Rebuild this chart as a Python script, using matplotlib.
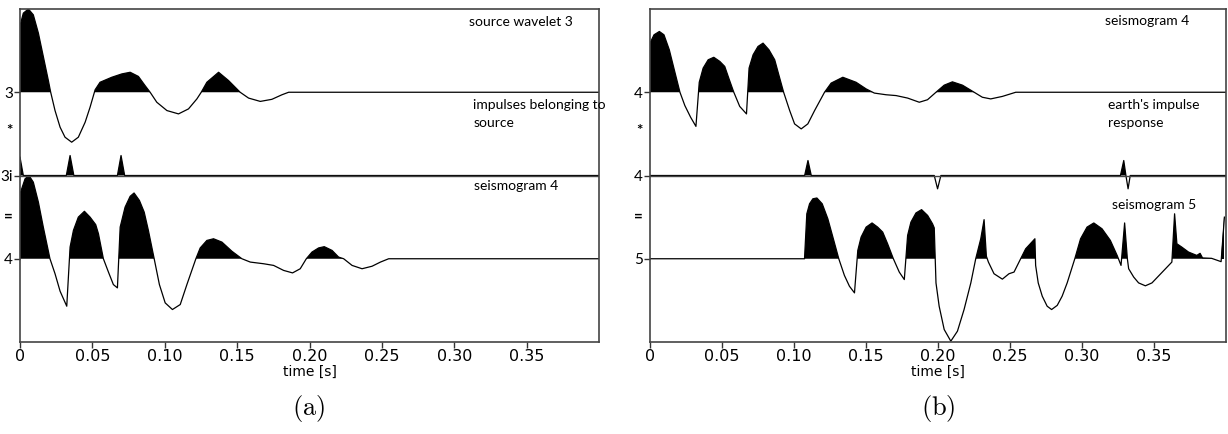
import matplotlib.pyplot as plt
import numpy as np

plt.rcParams['mathtext.fontset'] = 'cm'

# panel (a): source wavelet 3
w3_t = [0, 0.0023, 0.0058, 0.0092, 0.0127, 0.0161, 0.0196, 0.0212, 0.0242, 0.0277,
        0.0311, 0.0357, 0.0403, 0.045, 0.0484, 0.0519, 0.0553, 0.0634, 0.0703, 0.0761,
        0.0818, 0.0864, 0.0899, 0.0945, 0.1015, 0.1095, 0.1164, 0.1222, 0.1252, 0.1291,
        0.1372, 0.1441, 0.1521, 0.1579, 0.166, 0.174, 0.181, 0.1856, 0.40]
w3_a = [0.80, 0.95, 1.0, 0.93, 0.71, 0.43, 0.14, 0.0, -0.22, -0.42,
        -0.54, -0.60, -0.54, -0.36, -0.18, 0.03, 0.12, 0.18, 0.22, 0.24,
        0.19, 0.08, 0.0, -0.12, -0.22, -0.26, -0.20, -0.08, 0.0, 0.12,
        0.24, 0.14, 0.0, -0.07, -0.11, -0.085, -0.03, 0.0, 0.0]

# panel (a): impulses belonging to source
imp3_t = [0, 0.0023, 0.032, 0.0346, 0.0372, 0.0673, 0.0698, 0.0723, 0.40]
imp3_a = [0.22, 0.0, 0.0, 0.24, 0.0, 0.0, 0.24, 0.0, 0.0]

# seismogram 4 (panel a)
s4a_t = [0, 0.0035, 0.0062, 0.0092, 0.0127, 0.0161, 0.0207, 0.0242, 0.0277, 0.0323,
         0.0346, 0.0369, 0.0403, 0.0445, 0.0484, 0.0523, 0.0542, 0.0576, 0.0611, 0.0645,
         0.0673, 0.0692, 0.0726, 0.0761, 0.0788, 0.0825, 0.0858, 0.0887, 0.0927, 0.0963,
         0.1003, 0.1053, 0.1107, 0.1153, 0.1215, 0.1245, 0.1291, 0.1337, 0.1395, 0.1464,
         0.1533, 0.1591, 0.1683, 0.1752, 0.1821, 0.1883, 0.1936, 0.1978, 0.2017, 0.2063,
         0.2102, 0.2156, 0.2201, 0.2236, 0.2294, 0.2363, 0.2432, 0.249, 0.2547, 0.40]
s4a_a = [0.78, 0.96, 1.0, 0.92, 0.68, 0.38, 0.0, -0.18, -0.39, -0.57,
         0.14, 0.34, 0.50, 0.57, 0.50, 0.41, 0.30, 0.0, -0.16, -0.31,
         -0.35, 0.38, 0.62, 0.75, 0.79, 0.70, 0.56, 0.34, 0.0, -0.31,
         -0.53, -0.61, -0.55, -0.31, 0.0, 0.13, 0.22, 0.24, 0.20, 0.09,
         0.0, -0.04, -0.06, -0.08, -0.14, -0.17, -0.12, 0.0, 0.08, 0.13,
         0.145, 0.10, 0.02, 0.0, -0.08, -0.12, -0.09, -0.04, 0.0, 0.0]

# seismogram 4 (panel b)
s4b_t = [0, 0.0028, 0.0065, 0.0097, 0.0134, 0.0173, 0.0208, 0.0242, 0.0282, 0.0319,
         0.0342, 0.0369, 0.0404, 0.0443, 0.0485, 0.0519, 0.0549, 0.0582, 0.0623, 0.067,
         0.0688, 0.0716, 0.075, 0.0785, 0.0826, 0.0866, 0.0896, 0.0928, 0.097, 0.1004,
         0.105, 0.1096, 0.1143, 0.1212, 0.1258, 0.1339, 0.1431, 0.1501, 0.1558, 0.1639,
         0.1709, 0.1789, 0.187, 0.1927, 0.1986, 0.2043, 0.21, 0.217, 0.2251, 0.2308,
         0.2366, 0.2447, 0.254, 0.40]
s4b_a = [0.59, 0.69, 0.73, 0.69, 0.51, 0.24, 0.0, -0.16, -0.30, -0.41,
         0.12, 0.29, 0.39, 0.42, 0.37, 0.31, 0.16, 0.0, -0.17, -0.26,
         0.29, 0.45, 0.55, 0.59, 0.51, 0.39, 0.20, 0.0, -0.22, -0.38,
         -0.44, -0.38, -0.22, 0.0, 0.11, 0.18, 0.12, 0.04, -0.01, -0.03,
         -0.04, -0.07, -0.12, -0.09, 0.0, 0.085, 0.125, 0.085, 0.0, -0.06,
         -0.08, -0.05, 0.0, 0.0]

# earth's impulse response
eir_t = [0, 0.1074, 0.1097, 0.112, 0.1974, 0.1997, 0.202, 0.3267, 0.329, 0.3305,
         0.332, 0.3335, 0.40]
eir_a = [0.0, 0.0, 0.18, 0.0, 0.0, -0.16, 0.0, 0.0, 0.18, 0.0,
         -0.16, 0.0, 0.0]

# seismogram 5
s5_t = [0, 0.1073, 0.1089, 0.1108, 0.1131, 0.1159, 0.1196, 0.1235, 0.127, 0.1311,
        0.135, 0.1385, 0.142, 0.1443, 0.1466, 0.1501, 0.1542, 0.1581, 0.1616, 0.165,
        0.169, 0.1731, 0.1766, 0.1789, 0.1812, 0.1847, 0.1886, 0.1928, 0.1962, 0.1974,
        0.1986, 0.2008, 0.2043, 0.2089, 0.2135, 0.2181, 0.2228, 0.2262, 0.2297, 0.232,
        0.2336, 0.235, 0.2389, 0.2447, 0.2493, 0.2528, 0.2574, 0.2609, 0.2673, 0.2678,
        0.2696, 0.2724, 0.2758, 0.2789, 0.2828, 0.2862, 0.2897, 0.295, 0.299, 0.3035,
        0.3082, 0.3139, 0.3197, 0.3244, 0.3271, 0.3296, 0.3315, 0.3324, 0.3359, 0.3393,
        0.344, 0.3486, 0.3555, 0.3624, 0.3643, 0.3659, 0.3693, 0.374, 0.3797, 0.382,
        0.3837, 0.39, 0.3966, 0.3989]
s5_a = [0.0, 0.0, 0.54, 0.66, 0.72, 0.73, 0.66, 0.48, 0.26, 0.0,
        -0.20, -0.33, -0.41, 0.10, 0.26, 0.38, 0.43, 0.38, 0.32, 0.18,
        0.0, -0.16, -0.25, 0.28, 0.44, 0.55, 0.59, 0.52, 0.42, 0.37,
        -0.29, -0.57, -0.85, -0.99, -0.87, -0.61, -0.29, 0.0, 0.24, 0.47,
        0.03, -0.04, -0.18, -0.245, -0.18, -0.16, 0.0, 0.12, 0.24, -0.08,
        -0.29, -0.45, -0.57, -0.61, -0.56, -0.45, -0.29, 0.0, 0.24, 0.38,
        0.43, 0.36, 0.22, 0.04, -0.08, 0.43, 0.0, -0.12, -0.22, -0.29,
        -0.325, -0.29, -0.165, -0.04, 0.54, 0.18, 0.14, 0.08, 0.04, 0.065,
        0.01, 0.005, -0.035, 0.50]

xticks = [0, 0.05, 0.10, 0.15, 0.20, 0.25, 0.30, 0.35]
xticklabels = ['0', '0.05', '0.10', '0.15', '0.20', '0.25', '0.30', '0.35']

tick_font = 'Liberation Sans Narrow'
label_font = 'Lato'


def trace(ax, t, a, base):
    t = np.array(t)
    y = base + np.array(a)
    ax.fill_between(t, base, y, where=y > base, interpolate=True,
                    color='black', lw=0)
    ax.plot(t, y, color='black', lw=0.9)


def setup(ax, ylabels):
    ax.set_xlim(0, 0.40)
    ax.set_ylim(0, 4)
    ax.set_xticks(xticks)
    ax.set_xticklabels(xticklabels, family=[tick_font, 'DejaVu Sans'],
                       fontsize=11.5)
    ax.set_yticks([3, 2.55, 2, 1.52, 1])
    ax.set_yticklabels(ylabels, family=[label_font, 'DejaVu Sans'],
                       fontsize=11)
    for i in (1, 3):
        ax.yaxis.get_major_ticks()[i].tick1line.set_visible(False)
        ax.yaxis.get_major_ticks()[i].label1.set_fontweight('bold')
    ax.tick_params(length=4, width=1, color='#333333', pad=1)
    for s in ax.spines.values():
        s.set_color('#444444')
        s.set_linewidth(1.2)
    ax.set_xlabel('time [s]', family=[tick_font, 'DejaVu Sans'],
                  fontsize=10, labelpad=1)


fig = plt.figure(figsize=(12.28, 4.34), dpi=100)
axa = fig.add_axes([20 / 1228, 92 / 434, 579 / 1228, 333 / 434])
axb = fig.add_axes([650 / 1228, 92 / 434, 576 / 1228, 333 / 434])

trace(axa, w3_t, w3_a, 3)
trace(axa, imp3_t, imp3_a, 2)
trace(axa, s4a_t, s4a_a, 1)
setup(axa, ['3', '*', '3i', '=', '4'])
axa.axhline(2, color='#444444', lw=1)

trace(axb, s4b_t, s4b_a, 3)
trace(axb, eir_t, eir_a, 2)
trace(axb, s5_t, s5_a, 1)
setup(axb, ['4', '*', '4', '=', '5'])
axb.axhline(2, color='#444444', lw=1)

txt = dict(family=[label_font, 'DejaVu Sans'], fontsize=10, va='top',
           linespacing=1.6)
axa.text(0.3100, 3.92, 'source wavelet 3', **txt)
axa.text(0.3130, 2.92, 'impulses belonging to\nsource', **txt)
axa.text(0.3135, 1.95, 'seismogram 4', **txt)
axb.text(0.3160, 3.93, 'seismogram 4', **txt)
axb.text(0.3180, 2.92, "earth's impulse\nresponse", **txt)
axb.text(0.3205, 1.72, 'seismogram 5', **txt)

fig.text(309 / 1228, 1 - 408 / 434, r'$\mathrm{(a)}$', fontsize=19,
         ha='center', va='center')
fig.text(938 / 1228, 1 - 408 / 434, r'$\mathrm{(b)}$', fontsize=19,
         ha='center', va='center')

fig.savefig('out.png', dpi=100)
